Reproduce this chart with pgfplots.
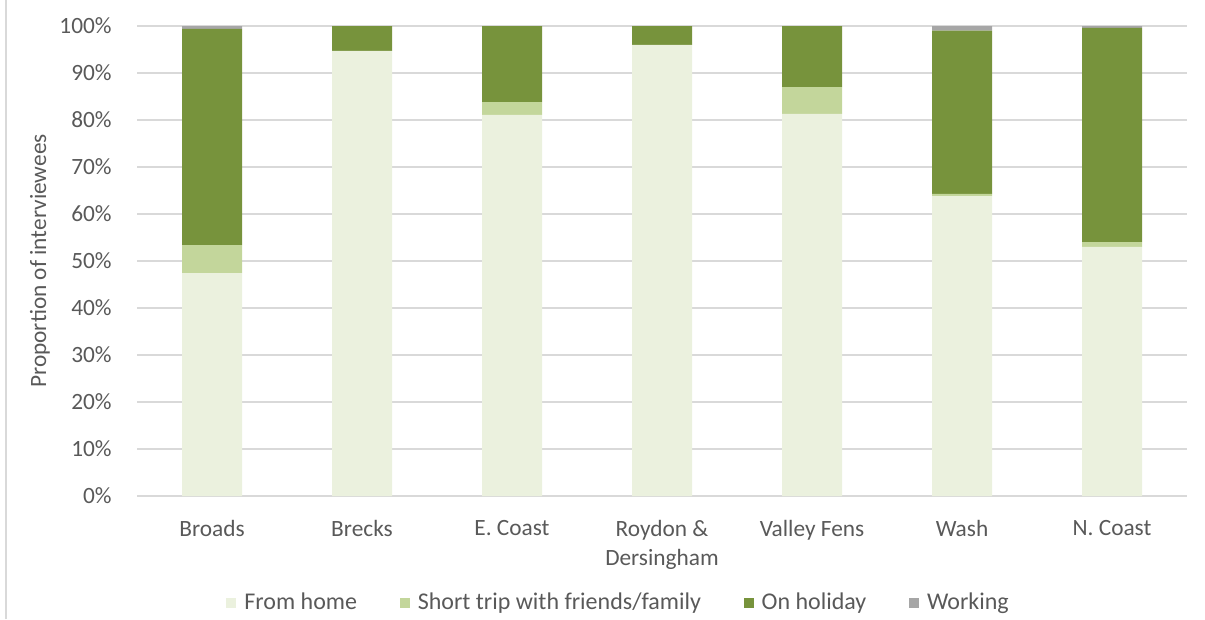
\documentclass[border=0pt]{standalone}
\usepackage{fontspec}
\setmainfont{Carlito}
\usepackage{pgfplots}
\pgfplotsset{compat=1.18}
\definecolor{homec}{HTML}{EBF1DE}
\definecolor{shortc}{HTML}{C3D69B}
\definecolor{holc}{HTML}{77933C}
\definecolor{workc}{HTML}{A6A6A6}
\definecolor{gridc}{HTML}{D9D9D9}
\definecolor{textc}{HTML}{595959}
\begin{document}
\fontsize{17.5}{21.75}\selectfont
\begin{tikzpicture}
\path[use as bounding box] (0,0) rectangle (903.75pt,464.25pt);
\draw[gridc, line width=1pt] (4.5pt,0) -- (4.5pt,464.25pt);
\begin{axis}[
  at={(102.75pt,92.25pt)}, anchor=south west,
  scale only axis, width=787.5pt, height=352.5pt,
  ybar stacked, bar width=45pt,
  xmin=-0.5, xmax=6.5, ymin=0, ymax=100,
  xtick={0,1,2,3,4,5,6},
  xticklabels={Broads, Brecks, E. Coast, {Roydon \&\\Dersingham}, Valley Fens, Wash, N. Coast},
  xticklabel style={align=center, text=textc, yshift=-12.5pt},
  ytick={0,10,20,30,40,50,60,70,80,90,100},
  yticklabels={0\%,10\%,20\%,30\%,40\%,50\%,60\%,70\%,80\%,90\%,100\%},
  yticklabel style={text=textc, xshift=-13pt},
  major tick length=0pt,
  axis line style={draw=none},
  ymajorgrids, grid style={gridc, line width=1.1pt},
  ylabel={Proportion of interviewees},
  ylabel style={at={(axis description cs:-0.0924,0.5)}, anchor=center, text=textc},
  legend columns=4,
  legend style={at={(axis description cs:0.459,-0.2277)}, anchor=center, draw=none, fill=none,
    /tikz/every even column/.append style={column sep=30pt},
    font=\fontsize{18}{21.75}\selectfont,
    nodes={text=textc, inner sep=2pt}},
  legend image code/.code={\fill[#1] (0pt,-3.75pt) rectangle (7.5pt,3.75pt); \path (11.5pt,0pt);},
]
\addplot[fill=homec, draw=none] coordinates {(0,47.4) (1,94.7) (2,81.1) (3,96.0) (4,81.3) (5,63.8) (6,53.0)};
\addplot[fill=shortc, draw=none] coordinates {(0,6.0) (1,0) (2,2.7) (3,0) (4,5.7) (5,0.5) (6,1.0)};
\addplot[fill=holc, draw=none] coordinates {(0,46.0) (1,5.3) (2,16.2) (3,4.0) (4,13.0) (5,34.7) (6,45.6)};
\addplot[fill=workc, draw=none] coordinates {(0,0.6) (1,0) (2,0) (3,0) (4,0) (5,1.0) (6,0.4)};
\legend{From home, Short trip with friends/family, On holiday, Working}
\end{axis}
\end{tikzpicture}
\end{document}
